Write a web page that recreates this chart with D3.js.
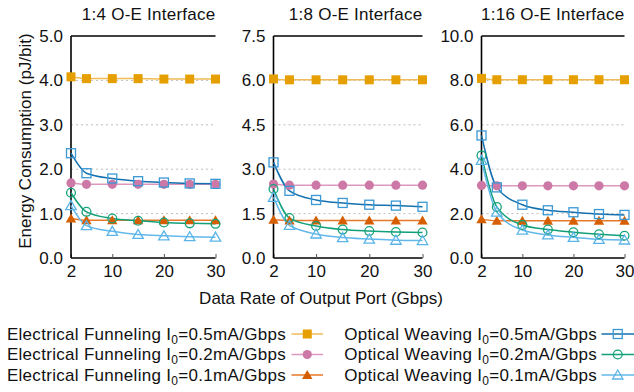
<!DOCTYPE html>
<html>
<head>
<meta charset="utf-8">
<script src="https://cdn.jsdelivr.net/npm/d3@7"></script>
<style>
  body { margin: 0; background: #fff; }
  svg { display: block; font-family: "Liberation Sans", Arial, sans-serif; }
</style>
</head>
<body>
<svg id="chart" width="634" height="392"></svg>
<script>
'use strict';
// data rates on the x axis (Gbps)
const rates = [2, 5, 10, 15, 20, 25, 30];
const xTicks = [2, 10, 20, 30];
const titles = ["1:4 O-E Interface", "1:8 O-E Interface", "1:16 O-E Interface"];
const yMaxes = [5, 7.5, 10];
const yTicks = [[0, 1, 2, 3, 4, 5], [0, 1.5, 3, 4.5, 6, 7.5], [0, 2, 4, 6, 8, 10]];

// one row per panel (1:4, 1:8, 1:16), pJ/bit
const efHigh = [
    [4.08, 4.04, 4.04, 4.04, 4.03, 4.03, 4.03],
    [6.05, 6.02, 6.02, 6.02, 6.02, 6.02, 6.02],
    [8.09, 8.03, 8.03, 8.03, 8.03, 8.03, 8.03]];
const efMid = [
    [1.69, 1.66, 1.66, 1.66, 1.66, 1.66, 1.66],
    [2.50, 2.46, 2.46, 2.46, 2.46, 2.46, 2.46],
    [3.27, 3.25, 3.25, 3.25, 3.25, 3.25, 3.25]];
const efLow = [
    [0.89, 0.85, 0.85, 0.85, 0.85, 0.85, 0.85],
    [1.29, 1.27, 1.27, 1.27, 1.27, 1.27, 1.27],
    [1.74, 1.68, 1.68, 1.68, 1.68, 1.68, 1.68]];
const owHigh = [
    [2.36, 1.91, 1.79, 1.73, 1.70, 1.68, 1.67],
    [3.23, 2.27, 1.96, 1.86, 1.80, 1.77, 1.73],
    [5.52, 3.18, 2.40, 2.15, 2.06, 1.98, 1.94]];
const owMid = [
    [1.47, 1.04, 0.89, 0.84, 0.80, 0.78, 0.77],
    [2.33, 1.35, 1.08, 0.96, 0.91, 0.88, 0.86],
    [4.62, 2.30, 1.49, 1.28, 1.16, 1.07, 1.00]];
const owLow = [
    [1.18, 0.73, 0.60, 0.53, 0.50, 0.48, 0.47],
    [2.05, 1.10, 0.81, 0.69, 0.64, 0.60, 0.59],
    [4.40, 2.07, 1.26, 1.04, 0.93, 0.84, 0.81]];

const seriesNames = [
    "Electrical Funneling", "Electrical Funneling", "Electrical Funneling",
    "Optical Weaving", "Optical Weaving", "Optical Weaving"];
const currents = ["0.5", "0.2", "0.1", "0.5", "0.2", "0.1"];

const series = [
    {vals: efHigh, line: "#f0bc58", mark: "#e69f00", shape: "square", fill: true},
    {vals: efMid, line: "#dd98c0", mark: "#cc79a7", shape: "circle", fill: true},
    {vals: efLow, line: "#e8782a", mark: "#d55e00", shape: "triangle", fill: true},
    {vals: owHigh, line: "#1470ae", mark: "#3a98d4", shape: "square", fill: false},
    {vals: owMid, line: "#12a07a", mark: "#16a37a", shape: "circle", fill: false},
    {vals: owLow, line: "#62b8ea", mark: "#5ab4e8", shape: "triangle", fill: false}
];

const svg = d3.select("#chart");
const panelX = [[71, 215.5], [273.5, 422.5], [481.5, 624.5]];
const plotTop = 36, plotBottom = 258;

function marker(g, s, x, y) {
    let fill = s.fill ? s.mark : "none";
    let sw = s.fill ? 0 : 1.3;
    if (s.shape === "square") {
        let w = 9;
        g.append("rect").attr("x", x - w / 2).attr("y", y - w / 2)
            .attr("width", w).attr("height", w)
            .attr("fill", fill).attr("stroke", s.mark).attr("stroke-width", sw);
    } else if (s.shape === "circle") {
        g.append("circle").attr("cx", x).attr("cy", y).attr("r", s.fill ? 4.6 : 4.4)
            .attr("fill", fill).attr("stroke", s.mark).attr("stroke-width", sw);
    } else {
        let h = 9;
        g.append("path")
            .attr("d", `M${x - 5.2},${y + h / 2 - 0.5}L${x + 5.2},${y + h / 2 - 0.5}L${x},${y - h / 2 - 0.5}Z`)
            .attr("fill", fill).attr("stroke", s.mark).attr("stroke-width", sw);
    }
}

titles.forEach((title, p) => {
    let x = d3.scaleLinear().domain([2, 30]).range(panelX[p]);
    let y = d3.scaleLinear().domain([0, yMaxes[p]]).range([plotBottom, plotTop]);
    let g = svg.append("g");

    // dotted grid lines
    g.selectAll(".grid").data(yTicks[p].slice(1, -1)).enter().append("line")
        .attr("x1", panelX[p][0]).attr("x2", panelX[p][1])
        .attr("y1", d => y(d)).attr("y2", d => y(d))
        .attr("stroke", "#bdbdbd").attr("stroke-width", 1)
        .attr("stroke-dasharray", "2,3");

    // y tick labels
    g.selectAll(".yl").data(yTicks[p]).enter().append("text")
        .attr("x", panelX[p][0] - 8).attr("y", d => y(d) + 6)
        .attr("text-anchor", "end").attr("font-size", 17).attr("fill", "#111")
        .text(d => d3.format(".1f")(d));

    // x axis with inward ticks
    let xAxis = d3.axisBottom(x).tickValues(xTicks).tickSize(-4).tickPadding(8)
        .tickFormat(d3.format("d"));
    let ax = g.append("g").attr("transform", `translate(0,${plotBottom})`).call(xAxis);
    ax.select(".domain").attr("stroke", "#000").attr("stroke-width", 1.4)
        .attr("d", `M${panelX[p][0]},0H${panelX[p][1]}`);
    ax.selectAll(".tick line").attr("stroke", "#555");
    ax.selectAll(".tick text").attr("font-size", 17).attr("fill", "#111")
        .attr("font-family", "Liberation Sans, Arial, sans-serif").attr("dy", "0.62em");

    // left axis and top border
    g.append("line").attr("x1", panelX[p][0]).attr("x2", panelX[p][0])
        .attr("y1", plotTop).attr("y2", plotBottom).attr("stroke", "#000").attr("stroke-width", 1.6);
    g.append("line").attr("x1", panelX[p][0]).attr("x2", panelX[p][1])
        .attr("y1", plotTop).attr("y2", plotTop).attr("stroke", "#000").attr("stroke-width", 1.4);

    g.append("text").attr("x", panelX[p][1]).attr("y", 20)
        .attr("text-anchor", "end").attr("font-size", 17).attr("letter-spacing", 0.25)
        .attr("fill", "#111")
        .text(title);

    let line = d3.line().x((d, i) => x(rates[i])).y(d => y(d)).curve(d3.curveMonotoneX);
    series.forEach(s => {
        g.append("path").attr("d", line(s.vals[p]))
            .attr("fill", "none").attr("stroke", s.line).attr("stroke-width", 1.5);
    });
    series.forEach(s => {
        s.vals[p].forEach((v, i) => marker(g, s, x(rates[i]), y(v)));
    });
});

// axis titles
svg.append("text").attr("transform", "translate(31,141) rotate(-90)")
    .attr("text-anchor", "middle").attr("font-size", 17).attr("fill", "#111")
    .text("Energy Consumption (pJ/bit)");
svg.append("text").attr("x", 321).attr("y", 304)
    .attr("text-anchor", "middle").attr("font-size", 17).attr("fill", "#111")
    .text("Data Rate of Output Port (Gbps)");

// legend: two columns of three
const legendCols = [{textEnd: 286, lineX: [291.5, 323]}, {textEnd: 597, lineX: [601.5, 634]}];
const legendRows = [334, 354.5, 375];
series.forEach((s, k) => {
    let col = legendCols[Math.floor(k / 3)];
    let ry = legendRows[k % 3];
    let t = svg.append("text").attr("x", col.textEnd).attr("y", ry + 5.5)
        .attr("text-anchor", "end").attr("font-size", 17).attr("letter-spacing", 0.3)
        .attr("fill", "#111");
    t.append("tspan").text(seriesNames[k] + " I");
    t.append("tspan").attr("font-size", 12).attr("dy", 4).text("0");
    t.append("tspan").attr("dy", -4).text("=" + currents[k] + "mA/Gbps");
    svg.append("line").attr("x1", col.lineX[0]).attr("x2", col.lineX[1])
        .attr("y1", ry).attr("y2", ry).attr("stroke", s.line).attr("stroke-width", 1.5);
    marker(svg, s, (col.lineX[0] + col.lineX[1]) / 2, ry);
});
</script>
</body>
</html>
